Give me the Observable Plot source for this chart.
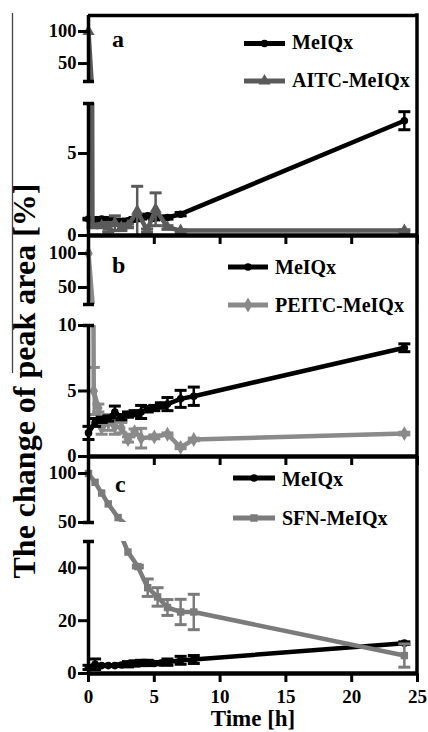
<!DOCTYPE html>
<html>
<head>
<meta charset="utf-8">
<script src="https://cdn.jsdelivr.net/npm/d3@7"></script>
<script src="https://cdn.jsdelivr.net/npm/@observablehq/plot@0.6"></script>
<style>
html, body { margin: 0; padding: 0; background: #fff; }
#wrap { position: relative; width: 428px; height: 732px; overflow: hidden; }
#wrap svg { position: absolute; left: 0; top: 0; }
</style>
</head>
<body>
<div id="wrap"></div>
<script>
// ---------- data ----------
const xTicks = [0, 5, 10, 15, 20, 25];

// panel a
const tA_MeIQx = [0, 0.5, 1, 1.5, 2, 2.5, 3, 3.5, 4, 4.5, 5, 6, 7, 24];
const vA_MeIQx = [1.0, 0.95, 1.0, 0.9, 0.85, 0.85, 0.9, 1.0, 1.1, 1.2, 1.05, 1.1, 1.3, 7.0];
const eA_MeIQx = [0.05, 0.05, 0.1, 0.2, 0.15, 0.1, 0.1, 0.1, 0.1, 0.1, 0.1, 0.1, 0.1, 0.55];
const tA_AITC = [0, 0.3, 1, 1.5, 2, 2.5, 3, 3.7, 4.45, 5.1, 6, 7, 24];
const vA_AITC = [100, 0.6, 0.6, 0.5, 0.75, 0.5, 0.6, 1.5, 0.3, 1.6, 0.5, 0.3, 0.3];
const eA_AITC = [0, 0.1, 0.1, 0.3, 0.45, 0.2, 0.1, 1.5, 0.1, 1.0, 0.1, 0.05, 0.05];

// panel b
const tB_MeIQx = [0, 0.5, 1, 1.5, 2, 2.5, 3, 3.5, 4, 4.5, 5, 5.5, 6, 7, 8, 24];
const vB_MeIQx = [1.8, 2.6, 2.8, 2.9, 3.4, 3.0, 3.2, 3.3, 3.4, 3.6, 3.7, 3.9, 4.0, 4.4, 4.6, 8.3];
const eB_MeIQx = [0.5, 0.3, 0.2, 0.2, 0.45, 0.2, 0.2, 0.2, 0.5, 0.2, 0.2, 0.2, 0.5, 0.65, 0.7, 0.3];
const tB_PEITC = [0, 0.4, 0.75, 1, 1.5, 2, 2.5, 3, 3.5, 4, 5, 6, 7, 8, 24];
const vB_PEITC = [100, 5.0, 3.7, 2.2, 2.6, 2.3, 2.2, 1.3, 1.9, 1.4, 1.5, 1.7, 0.7, 1.3, 1.75];
const eB_PEITC = [0, 1.8, 0.3, 0.5, 0.6, 0.6, 0.4, 0.2, 0.2, 0.75, 0.15, 0.1, 0.1, 0.1, 0.1];

// panel c
const tC_MeIQx = [0, 0.5, 1, 1.5, 2, 2.5, 3, 3.5, 4, 4.5, 5, 5.5, 6, 7, 8, 24];
const vC_MeIQx = [2.3, 3.5, 3.0, 3.0, 3.0, 3.2, 3.5, 3.8, 4.0, 4.0, 3.8, 4.0, 4.3, 5.0, 5.3, 11.5];
const eC_MeIQx = [0.8, 2.0, 0.3, 0.3, 0.3, 0.5, 1.0, 1.0, 1.0, 1.0, 0.5, 0.5, 1.2, 1.5, 1.5, 0.5];
const tC_SFN = [0, 0.5, 1, 1.5, 2.25, 3, 3.75, 4.5, 5.25, 6, 7, 8, 24];
const vC_SFN = [100, 91, 80, 69, 55, 46, 40.5, 32.5, 29, 25, 23.3, 23.3, 6.8];
const eC_SFN = [0, 0, 0, 0, 0, 0, 0.5, 3.3, 3.5, 3, 4.8, 6.7, 4.4];

// ---------- styling ----------
const FONT = "'Liberation Serif', 'Times New Roman', serif";
const BLACK = "#000";
const GRAY_A = "#5a5a5a";
const GRAY_B = "#8a8a8a";
const GRAY_C = "#7b7b7b";

const capSymbol = {
  draw(ctx, size) {
    const w = Math.sqrt(size / Math.PI);
    ctx.moveTo(-w, 0);
    ctx.lineTo(w, 0);
  }
};

const sMeIQx = (t, v, e) => ({t, v, e, color: BLACK, symbol: d3.symbolCircle, r: 3.8});

const panels = [
  {
    series: [
      sMeIQx(tA_MeIQx, vA_MeIQx, eA_MeIQx),
      {t: tA_AITC, v: vA_AITC, e: eA_AITC, color: GRAY_A, symbol: d3.symbolTriangle, r: 4.5}
    ],
    upper: {top: 15, bottom: 81, height: 92, domain: [22, 125], ticks: [50, 100], topBorder: true},
    lower: {top: 103, bottom: 235, height: 250, domain: [0, 8.05], ticks: [0, 5], labels: false}
  },
  {
    series: [
      {t: tB_PEITC, v: vB_PEITC, e: eB_PEITC, color: GRAY_B, symbol: d3.symbolDiamond, r: 4.5},
      sMeIQx(tB_MeIQx, vB_MeIQx, eB_MeIQx)
    ],
    upper: {top: 237, bottom: 304, height: 316, domain: [25, 123.5], ticks: [50, 100]},
    lower: {top: 325, bottom: 456, height: 470, domain: [0, 10], ticks: [0, 5, 10], labels: false}
  },
  {
    series: [
      sMeIQx(tC_MeIQx, vC_MeIQx, eC_MeIQx),
      {t: tC_SFN, v: vC_SFN, e: eC_SFN, color: GRAY_C, symbol: d3.symbolSquare, r: 4.2}
    ],
    upper: {top: 458, bottom: 522, height: 536, domain: [50, 115.3], ticks: [50, 100]},
    lower: {top: 541, bottom: 673, height: 732, domain: [0, 50], ticks: [0, 20, 40], labels: true}
  }
];

function segment(cfg, series, isLower) {
  const [lo, hi] = cfg.domain;
  const inside = v => v >= lo - 1e-9 && v <= hi + 1e-9;
  const marks = [];
  for (const s of series) {
    const data = s.t.map((t, i) => ({t, v: s.v[i], e: s.e[i]}));
    marks.push(Plot.line(data, {x: "t", y: "v", stroke: s.color, strokeWidth: 4.5, clip: true}));
    const eb = data.filter(d => d.e > 0);
    marks.push(Plot.ruleX(eb, {x: "t", y1: d => d.v - d.e, y2: d => d.v + d.e, stroke: s.color, strokeWidth: 2.5, clip: true}));
    marks.push(Plot.dot(eb.filter(d => inside(d.v + d.e)), {x: "t", y: d => d.v + d.e, symbol: capSymbol, r: 6, fill: "none", stroke: s.color, strokeWidth: 3}));
    marks.push(Plot.dot(eb.filter(d => inside(d.v - d.e)), {x: "t", y: d => d.v - d.e, symbol: capSymbol, r: 6, fill: "none", stroke: s.color, strokeWidth: 3}));
    marks.push(Plot.dot(data.filter(d => inside(d.v)), {x: "t", y: "v", symbol: s.symbol, r: s.r, fill: s.color, stroke: "none"}));
  }
  // y axis line and break caps
  marks.push(Plot.ruleX([0], {y1: lo, y2: hi, strokeWidth: 3.5, stroke: BLACK}));
  marks.push(Plot.axisY({ticks: cfg.ticks, tickSize: 10, tickPadding: 2, strokeWidth: 3, fontSize: 18.5, fontWeight: "bold", label: null, tickFormat: d => String(d)}));
  if (isLower) {
    marks.push(Plot.dot([hi], {x: 0, y: d => d, symbol: capSymbol, r: 5.5, fill: "none", stroke: BLACK, strokeWidth: 3.5}));
    marks.push(Plot.ruleY([lo], {strokeWidth: 4.5, stroke: BLACK}));
    marks.push(Plot.axisX({ticks: xTicks, tickSize: 9, tickPadding: 7, strokeWidth: 3, fontSize: 19, fontWeight: "bold", label: null,
      tickFormat: cfg.labels ? (d => String(d)) : (() => "")}));
  } else {
    marks.push(Plot.dot([lo], {x: 0, y: d => d, symbol: capSymbol, r: 5.5, fill: "none", stroke: BLACK, strokeWidth: 3.5}));
    if (cfg.topBorder) marks.push(Plot.ruleY([hi], {strokeWidth: 3.5, stroke: BLACK}));
  }
  const xOpt = {domain: [0, 25], label: null};
  if (!isLower) xOpt.axis = null;
  return Plot.plot({
    width: 428,
    height: cfg.height,
    marginLeft: 88,
    marginRight: 11,
    marginTop: cfg.top,
    marginBottom: cfg.height - cfg.bottom,
    x: xOpt,
    y: {domain: cfg.domain, label: null},
    style: {background: "transparent", fontFamily: FONT, fontWeight: "bold", fontSize: "19px", color: "#000"},
    marks
  });
}

const wrap = document.getElementById("wrap");
const plots = [];
for (const p of panels) {
  const up = segment(p.upper, p.series, false);
  const low = segment(p.lower, p.series, true);
  wrap.appendChild(up);
  wrap.appendChild(low);
  plots.push({up, low});
}

// ---------- overlay: frame right edge, legends, labels ----------
const ov = d3.select(wrap).append("svg")
  .attr("width", 428).attr("height", 732)
  .style("font-family", FONT).style("font-weight", "bold");

const xs = plots[0].up.scale("x");
const yTop = plots[0].up.scale("y").apply(panels[0].upper.domain[1]);
const yBot = plots[2].low.scale("y").apply(0);
ov.append("line")
  .attr("x1", xs.apply(25)).attr("x2", xs.apply(25))
  .attr("y1", yTop - 1.75).attr("y2", yBot + 2)
  .attr("stroke", BLACK).attr("stroke-width", 3.5);

// panel letters
const letters = [
  {txt: "a", x: 112, y: 47},
  {txt: "b", x: 112, y: 273},
  {txt: "c", x: 115, y: 492}
];
for (const l of letters) {
  ov.append("text").attr("x", l.x).attr("y", l.y).attr("font-size", 24).text(l.txt);
}

// legends
const legends = [
  {x1: 244, x2: 285, tx: 292, rows: [
    {y: 43.5, base: 49, label: "MeIQx", color: BLACK, symbol: d3.symbolCircle, r: 3.8},
    {y: 81, base: 87, label: "AITC-MeIQx", color: GRAY_A, symbol: d3.symbolTriangle, r: 4.5}
  ]},
  {x1: 228, x2: 268, tx: 275, rows: [
    {y: 267, base: 274, label: "MeIQx", color: BLACK, symbol: d3.symbolCircle, r: 3.8},
    {y: 305, base: 312, label: "PEITC-MeIQx", color: GRAY_B, symbol: d3.symbolDiamond, r: 4.5}
  ]},
  {x1: 233, x2: 275, tx: 282, rows: [
    {y: 478, base: 486, label: "MeIQx", color: BLACK, symbol: d3.symbolCircle, r: 3.8},
    {y: 518, base: 525, label: "SFN-MeIQx", color: GRAY_C, symbol: d3.symbolSquare, r: 4.2}
  ]}
];
for (const lg of legends) {
  for (const r of lg.rows) {
    ov.append("line").attr("x1", lg.x1).attr("x2", lg.x2).attr("y1", r.y).attr("y2", r.y)
      .attr("stroke", r.color).attr("stroke-width", 5);
    ov.append("path").attr("d", d3.symbol(r.symbol, Math.PI * r.r * r.r)())
      .attr("transform", `translate(${(lg.x1 + lg.x2) / 2},${r.y})`).attr("fill", r.color);
    ov.append("text").attr("x", lg.tx).attr("y", r.base).attr("font-size", 20).text(r.label);
  }
}

// y title with its stray rule
ov.append("line").attr("x1", 12.5).attr("x2", 12.5).attr("y1", 13).attr("y2", 373)
  .attr("stroke", "#444").attr("stroke-width", 1.3);
ov.append("text")
  .attr("transform", "translate(35,381) rotate(-90)")
  .attr("text-anchor", "middle").attr("font-size", 32)
  .text("The change of peak area [%]");

// x title
ov.append("text").attr("x", 253).attr("y", 726).attr("text-anchor", "middle").attr("font-size", 23)
  .text("Time [h]");
</script>
</body>
</html>
